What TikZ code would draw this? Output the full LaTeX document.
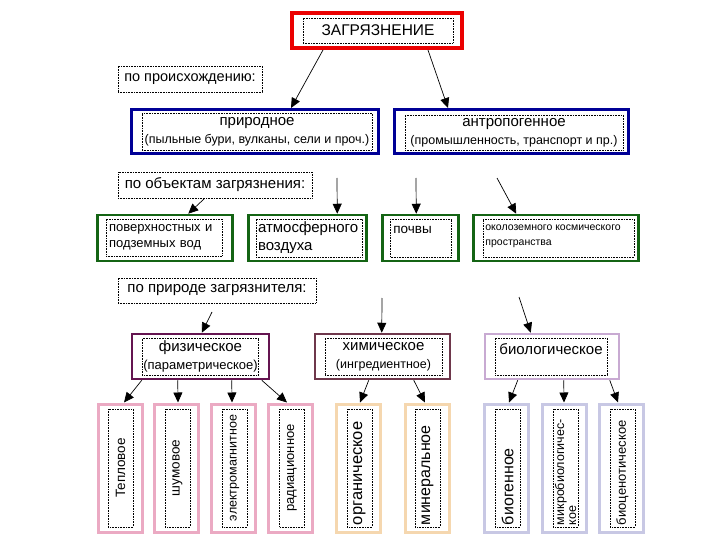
\documentclass[tikz,border=0pt]{standalone}
\usepackage{fontspec}
\setmainfont{Liberation Sans}
\usetikzlibrary{arrows.meta,calc}
\definecolor{zagred}{RGB}{235,0,0}
\definecolor{navyline}{RGB}{0,0,150}
\definecolor{greenline}{RGB}{20,100,20}
\definecolor{fizline}{RGB}{100,20,80}
\definecolor{himline}{RGB}{110,55,75}
\definecolor{bioline}{RGB}{200,170,210}
\definecolor{pinkline}{RGB}{235,170,195}
\definecolor{beigeline}{RGB}{245,215,175}
\definecolor{lavline}{RGB}{200,200,228}
\tikzset{
  sz/.style n args={2}{minimum width=#1pt, minimum height=#2pt},
  frame/.style={draw, densely dotted, line width=0.6pt, inner sep=1pt},
  colbox/.style={draw=#1, inner sep=0pt},
  arr/.style={->, line width=0.7pt, solid},
  fs/.style n args={2}{font=\fontsize{#1}{#2}\selectfont},
  vtext/.style={frame, rotate=90, sz={118}{25}, text width=114pt}
}
\begin{document}
\begin{tikzpicture}[x=1pt,y=-1pt, >={Triangle[length=10pt,width=9pt]}]
  \useasboundingbox (0,0) rectangle (720,540);
  % top level
  \node[colbox=zagred, line width=4pt, sz={170}{35}] (zag) at (377,30.5) {};
  \node[frame, sz={150}{25}, fs={15.5}{18}] (zagtext) at (378,30.5) {ЗАГРЯЗНЕНИЕ};
  \node[frame, sz={144}{26}, fs={14.5}{17}] (origin) at (190,79) {по происхождению:};
  \node[colbox=navyline, line width=3pt, sz={247}{44}] (prirod) at (255,131.5) {};
  \node[frame, sz={230}{37}, align=center, fs={15}{18}] (prirodtext) at (257,131.5)
    {природное\\{\fontsize{12.5}{14}\selectfont (пыльные бури, вулканы, сели и проч.)}};
  \node[colbox=navyline, line width=3pt, sz={234}{44}] (antrop) at (511.5,131.5) {};
  \node[frame, sz={218}{35}, align=center, fs={15}{18}] (antroptext) at (514,132.5)
    {антропогенное\\{\fontsize{12.5}{14}\selectfont (промышленность, транспорт и пр.)}};
  % objects
  \node[frame, sz={194}{26}, fs={15}{17}] (objects) at (215,185) {по объектам загрязнения:};
  \node[colbox=greenline, line width=2.5pt, sz={135}{46}] (voda) at (165,238) {};
  \node[frame, sz={116}{37}, text width=110pt, align=left, fs={13}{16}] (vodatext) at (164,237.5)
    {поверхностных и\\подземных вод};
  \node[colbox=greenline, line width=2.5pt, sz={118}{46}] (atmos) at (307.5,238) {};
  \node[frame, sz={106}{38}, text width=102pt, align=left, fs={15}{18}] (atmostext) at (309,238)
    {атмосферного\\воздуха};
  \node[colbox=greenline, line width=2.5pt, sz={76}{46}] (pochva) at (420.5,238) {};
  \node[frame, sz={61}{38}] (pochvaframe) at (421,238) {};
  \node[anchor=north west, inner sep=3pt, yshift=-4pt, fs={13.5}{16}] (pochvatext) at (pochvaframe.north west) {почвы};
  \node[colbox=greenline, line width=2.5pt, sz={165}{46}] (kosmos) at (556,238) {};
  \node[frame, sz={151}{38}] (kosmosframe) at (558.5,238) {};
  \node[anchor=north west, inner sep=2.5pt, yshift=-3pt, align=left, fs={10.5}{15}] (kosmostext) at (kosmosframe.north west)
    {околоземного космического\\пространства};
  % nature of pollutant
  \node[frame, sz={198}{25}, fs={15}{17}] (nature) at (217,290.5) {по природе загрязнителя:};
  \node[colbox=fizline, line width=2.5pt, sz={137}{45}] (fiz) at (200.5,356.5) {};
  \node[frame, sz={115}{37}, align=center, fs={15}{18}] (fiztext) at (200.5,356.5)
    {физическое\\{\fontsize{13}{15}\selectfont (параметрическое)}};
  \node[colbox=himline, line width=2.5pt, sz={135}{45}] (him) at (382.5,356.5) {};
  \node[frame, sz={117}{37}, align=center, fs={15}{18}] (himtext) at (383.5,356.5)
    {химическое\\{\fontsize{12.5}{15}\selectfont (ингредиентное)}};
  \node[colbox=bioline, line width=2.5pt, sz={134}{45}] (bio) at (552,356.5) {};
  \node[frame, sz={112}{37}] (bioframe) at (551,356.5) {};
  \node[anchor=north, inner sep=3.5pt, yshift=-2pt, fs={15}{17}] (biotext) at (bioframe.north) {биологическое};
  % bottom row
  \node[colbox=pinkline, line width=3pt, sz={44}{128}] (teplo) at (120,468) {};
  \node[colbox=pinkline, line width=3pt, sz={44}{128}] (shum) at (176.5,468) {};
  \node[colbox=pinkline, line width=3pt, sz={44}{128}] (elmag) at (233.5,468) {};
  \node[colbox=pinkline, line width=3pt, sz={44}{128}] (rad) at (290,468) {};
  \node[colbox=beigeline, line width=3pt, sz={44}{128}] (organ) at (358.5,468) {};
  \node[colbox=beigeline, line width=3pt, sz={44}{128}] (miner) at (427.5,468) {};
  \node[colbox=lavline, line width=3pt, sz={44}{128}] (biogen) at (506.5,468) {};
  \node[colbox=lavline, line width=3pt, sz={44}{128}] (mikro) at (564.5,468) {};
  \node[colbox=lavline, line width=3pt, sz={44}{128}] (biocen) at (621.5,468) {};
  \node[vtext, align=center, fs={13.5}{16}] (teplotext) at (120.5,468) {Тепловое};
  \node[vtext, align=center, fs={13.5}{16}] (shumtext) at (177.5,468) {шумовое};
  \node[vtext, align=center, fs={12.5}{15}] (elmagtext) at (234.5,468) {электромагнитное};
  \node[vtext, align=center, fs={13}{15}] (radtext) at (292,468) {радиационное};
  \node[vtext, align=left, fs={16.5}{19}] (organtext) at (359.5,468) {органическое};
  \node[vtext, align=left, fs={16}{19}] (minertext) at (427.5,468) {минеральное};
  \node[vtext, align=left, fs={16}{19}] (biogentext) at (507.5,468) {биогенное};
  \node[vtext, align=left, fs={12.5}{12}] (mikrotext) at (565.5,468) {микробиологичес-\\кое};
  \node[vtext, align=left, fs={13}{15}] (biocentext) at (622.5,468) {биоценотическое};
  % free arrow starts
  \coordinate (c1) at (337,178);
  \coordinate (c2) at (416,178);
  \coordinate (c3) at (497,178);
  \coordinate (c4) at (212,312);
  \coordinate (c5) at (382,298);
  \coordinate (c6) at (519,297);
  % arrows
  \draw[arr] ($(zag.south west)+(33,0)$) -- ($(prirod.north west)+(161,0)$);
  \draw[arr] ($(zag.south west)+(138,0)$) -- ($(antrop.north west)+(55,0)$);
  \draw[arr] ($(objects.south west)+(87,0)$) -- ($(voda.north west)+(92,0)$);
  \draw[arr] (c1) -- ($(atmos.north west)+(90,0)$);
  \draw[arr] (c2) -- ($(pochva.north west)+(35,0)$);
  \draw[arr] (c3) -- ($(kosmos.north west)+(44,0)$);
  \draw[arr] (c4) -- ($(fiz.north west)+(71,0)$);
  \draw[arr] (c5) -- ($(him.north west)+(68,0)$);
  \draw[arr] (c6) -- ($(bio.north west)+(47,0)$);
  \draw[arr] ($(fiz.south west)+(11,0)$) -- ($(teplo.north west)+(27.5,0)$);
  \draw[arr] ($(fiz.south west)+(47,0)$) -- ($(shum.north west)+(25,0)$);
  \draw[arr] ($(fiz.south west)+(101,0)$) -- ($(elmag.north west)+(22,0)$);
  \draw[arr] ($(fiz.south west)+(131,0)$) -- ($(rad.north west)+(20.5,0)$);
  \draw[arr] ($(him.south west)+(55,0)$) -- ($(organ.north west)+(25,0)$);
  \draw[arr] ($(him.south west)+(100,0)$) -- ($(miner.north west)+(21,0)$);
  \draw[arr] ($(bio.south west)+(34,0)$) -- ($(biogen.north west)+(26,0)$);
  \draw[arr] ($(bio.south west)+(80,0)$) -- ($(mikro.north west)+(23,0)$);
  \draw[arr] ($(bio.south west)+(126,0)$) -- ($(biocen.north west)+(20,0)$);
\end{tikzpicture}
\end{document}
